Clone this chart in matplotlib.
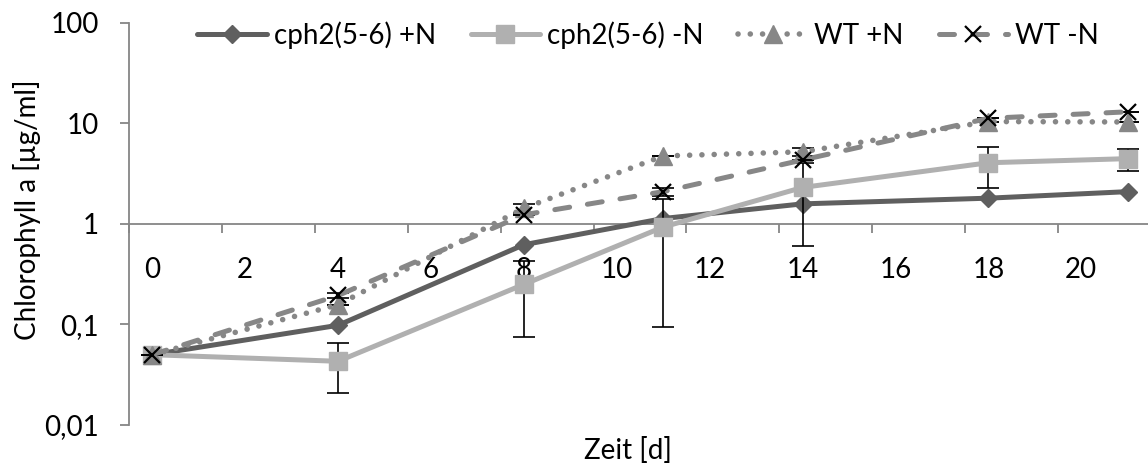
import matplotlib
matplotlib.use("Agg")
import matplotlib.pyplot as plt
import matplotlib.ticker as ticker

# --- Data ---
DAYS = [0, 4, 8, 11, 14, 18, 21]

CPH2_PLUS_N = [0.05, 0.098, 0.62, 1.13, 1.58, 1.80, 2.09]
CPH2_MINUS_N = [0.05, 0.043, 0.25, 0.93, 2.30, 4.05, 4.45]
CPH2_MINUS_N_ERR = [0.0, 0.022, 0.175, 0.835, 1.70, 1.80, 1.10]
WT_PLUS_N = [0.05, 0.157, 1.43, 4.73, 5.20, 10.4, 10.3]
WT_PLUS_N_ERR = [0.0, 0.0, 0.15, 0.0, 0.5, 0.0, 0.0]
WT_MINUS_N = [0.05, 0.194, 1.23, 2.09, 4.32, 11.2, 13.0]
WT_MINUS_N_ERR = [0.0, 0.012, 0.0, 0.2, 0.0, 0.0, 0.0]

LABELS = ['cph2(5-6) +N', 'cph2(5-6) -N', 'WT +N', 'WT -N']

Y_TICKS = [0.01, 0.1, 1, 10, 100]
Y_TICK_LABELS = ['0,01', '0,1', '1', '10', '100']
X_TICK_LABELS = [0, 2, 4, 6, 8, 10, 12, 14, 16, 18, 20]

# --- Style ---
FONT = 'Lato'
FONT_SIZE = 20
AXIS_GREY = '#868686'
DARK = '#5f5f5f'
LIGHT = '#b0b0b0'
MID = '#878787'


def main():
    plt.rcParams['font.family'] = [FONT, 'DejaVu Sans']
    plt.rcParams['font.size'] = FONT_SIZE

    fig = plt.figure(figsize=(11.48, 4.65), dpi=100)
    ax = fig.add_axes([129 / 1148, 1 - 425 / 465, 1 - 129 / 1148, (425 - 22.7) / 465])

    # series 1: dark diamonds, solid
    ax.plot(DAYS, CPH2_PLUS_N, color=DARK, lw=3.6, marker='D', ms=9.5,
            mfc=DARK, mec=DARK, label=LABELS[0], zorder=3, solid_capstyle='round')

    # series 2: light squares, solid, with error bars
    ax.errorbar(DAYS, CPH2_MINUS_N, yerr=CPH2_MINUS_N_ERR, fmt='none', ecolor='black',
                elinewidth=1.2, capsize=8, capthick=1.2, zorder=3.5)
    ax.plot(DAYS, CPH2_MINUS_N, color=LIGHT, lw=3.6, marker='s', ms=13,
            mfc=LIGHT, mec=LIGHT, label=LABELS[1], zorder=4, solid_capstyle='round')

    # series 3: grey triangles, dotted
    ax.errorbar(DAYS, WT_PLUS_N, yerr=WT_PLUS_N_ERR, fmt='none', ecolor='black',
                elinewidth=1.2, capsize=8, capthick=1.2, zorder=4.5)
    ax.plot(DAYS, WT_PLUS_N, color=MID, lw=4, marker='^', ms=13.5,
            mfc=MID, mec=MID, label=LABELS[2], zorder=5,
            linestyle=(0, (0.01, 2.2)), dash_capstyle='round')

    # series 4: grey dashes with black crosses
    ax.errorbar(DAYS, WT_MINUS_N, yerr=WT_MINUS_N_ERR, fmt='none', ecolor='black',
                elinewidth=1.2, capsize=8, capthick=1.2, zorder=5.5)
    ax.plot(DAYS, WT_MINUS_N, color=MID, lw=3.6, marker='x', ms=11, mew=1.6,
            mec='black', label=LABELS[3], zorder=6,
            linestyle=(0, (3, 3.6)), dash_capstyle='round')

    # axes: log y, x axis crossing at 1
    ax.set_yscale('log')
    ax.set_ylim(0.01, 100)
    ax.set_xlim(-0.5, -0.5 + 1019 / 46.45)
    ax.yaxis.set_major_locator(ticker.FixedLocator(Y_TICKS))
    ax.yaxis.set_major_formatter(ticker.FixedFormatter(Y_TICK_LABELS))
    ax.yaxis.set_minor_locator(ticker.NullLocator())

    ax.spines['top'].set_visible(False)
    ax.spines['right'].set_visible(False)
    ax.spines['bottom'].set_position(('data', 1))
    for side in ('left', 'bottom'):
        ax.spines[side].set_color(AXIS_GREY)
        ax.spines[side].set_linewidth(1.3)

    # major ticks sit between the day labels, labels are carried by minor ticks
    ax.xaxis.set_major_locator(ticker.FixedLocator([t - 0.5 for t in X_TICK_LABELS]))
    ax.xaxis.set_major_formatter(ticker.NullFormatter())
    ax.xaxis.set_minor_locator(ticker.FixedLocator(X_TICK_LABELS))
    ax.xaxis.set_minor_formatter(ticker.FixedFormatter([str(t) for t in X_TICK_LABELS]))
    ax.tick_params(axis='x', which='major', direction='out', length=6.5,
                   width=1.3, color=AXIS_GREY)
    ax.tick_params(axis='x', which='minor', length=0, pad=24, labelsize=FONT_SIZE)
    ax.tick_params(axis='y', which='major', direction='out', length=6.5,
                   width=1.3, color=AXIS_GREY, pad=15, labelsize=FONT_SIZE)

    fig.text(628 / 1148, 1 - 450 / 465, 'Zeit [d]', ha='center', va='center')
    fig.text(27 / 1148, 1 - 210 / 465, 'Chlorophyll a [µg/ml]', ha='center',
             va='center', rotation=90)

    fig.legend(loc='center', bbox_to_anchor=(648 / 1148, 1 - 35 / 465), ncol=4,
               frameon=False, handlelength=2.5, handletextpad=0.25,
               columnspacing=1.25, borderaxespad=0, borderpad=0)

    fig.savefig('out.png', dpi=100)


if __name__ == '__main__':
    main()
